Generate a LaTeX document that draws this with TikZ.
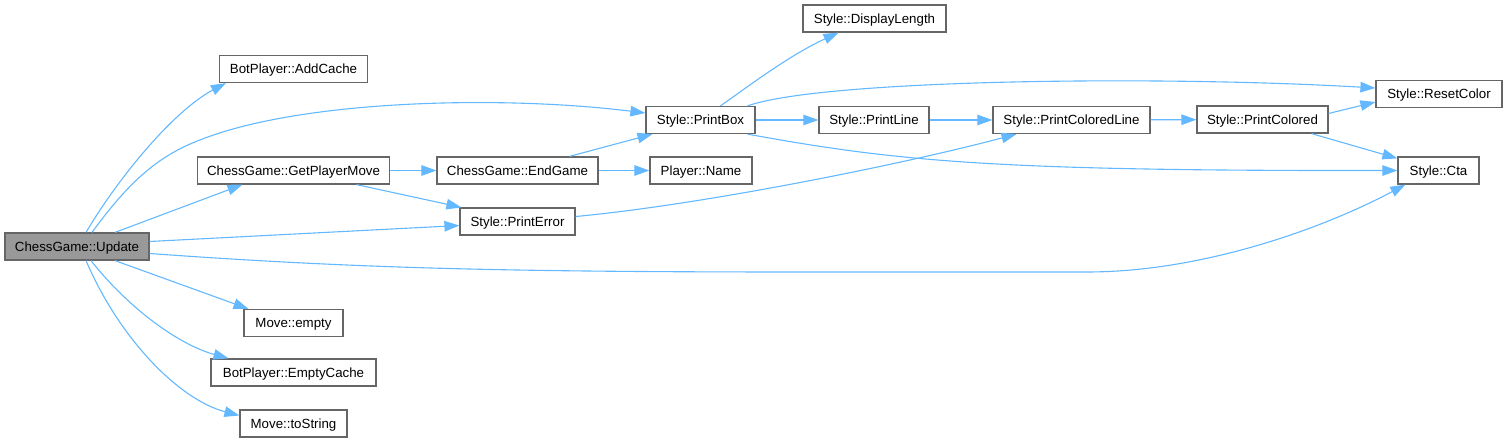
\documentclass[tikz,border=0pt]{standalone}
\usepackage{fontspec}
\setmainfont{Liberation Sans}
\usepackage{tikz}
\usetikzlibrary{arrows.meta}

\begin{document}
\begin{tikzpicture}[x=1pt,y=-1pt,
    fn/.style={draw=r102g102b102, fill=white, line width=1.2pt, inner sep=0pt,
      minimum height=27pt, text height=9.6pt, text depth=0pt,
      font=\fontsize{13.3}{16}\selectfont},
    call/.style={draw=r99g184b255, line width=1.1pt,
      -{Triangle[length=15pt,width=10.5pt,fill=r99g184b255]}}]
                        \useasboundingbox (0,0) rectangle (1507,443);

                        % Changing color 102 102 102 (box borders)
                        \definecolor{r102g102b102}{rgb}{0.400000,0.400000,0.400000}%
                        % Changing color 153 153 153 (root box)
                        \definecolor{r153g153b153}{rgb}{0.600000,0.600000,0.600000}%
                        % Changing color 99 184 255 (calls)
                        \definecolor{r99g184b255}{rgb}{0.388235,0.721569,1.000000}%

                        % Root function
                        \node [fn, fill=r153g153b153, minimum width=144pt] (upd) at (77,246.5) {ChessGame::Update};%

                        % First level callees
                        \node [fn, minimum width=148pt] (addc) at (293.5,69) {BotPlayer::AddCache};%
                        \node [fn, minimum width=192pt] (gpm) at (293.5,170.5) {ChessGame::GetPlayerMove};%
                        \node [fn, minimum width=99pt] (mempty) at (293.5,323) {Move::empty};%
                        \node [fn, minimum width=165pt] (ecache) at (293.5,372.5) {BotPlayer::EmptyCache};%
                        \node [fn, minimum width=107pt] (tostr) at (293.5,423.5) {Move::toString};%

                        % Second level callees
                        \node [fn, minimum width=161pt] (endg) at (517.5,170.5) {ChessGame::EndGame};%
                        \node [fn, minimum width=115pt] (perr) at (517.5,221.5) {Style::PrintError};%

                        % Third level callees
                        \node [fn, minimum width=109pt] (pbox) at (700.5,120) {Style::PrintBox};%
                        \node [fn, minimum width=102pt] (pname) at (701,170.5) {Player::Name};%

                        % Style helpers
                        \node [fn, minimum width=143pt] (dlen) at (874.5,18.5) {Style::DisplayLength};%
                        \node [fn, minimum width=110pt] (pline) at (874,120) {Style::PrintLine};%
                        \node [fn, minimum width=157pt] (pcline) at (1071.5,120) {Style::PrintColoredLine};%
                        \node [fn, minimum width=131pt] (pcol) at (1262.5,119.5) {Style::PrintColored};%
                        \node [fn, minimum width=126pt] (reset) at (1439,94) {Style::ResetColor};%
                        \node [fn, minimum width=81pt] (cta) at (1438.5,170.5) {Style::Cta};%

                        % Drawing calls of ChessGame::Update
                        \draw [call] ([xshift=9pt]upd.north) .. controls (120,175) and (175,110) .. ([xshift=7pt]addc.south west);%
                        \draw [call] ([xshift=15pt]upd.north) .. controls (130,180) and (160,155) .. (200,140)
                          .. controls (300,100) and (500,95) .. ([yshift=7pt]pbox.west);%
                        \draw [call] ([xshift=38pt]upd.north) -- ([xshift=-51pt]gpm.south);%
                        \draw [call] ([yshift=5pt]upd.east) -- ([yshift=-4pt]perr.west);%
                        \draw [call] ([yshift=-7pt]upd.east) .. controls (350,268) and (500,272) .. (800,272)
                          -- (1087,272) .. controls (1200,272) and (1320,230) .. ([xshift=8pt]cta.south west);%
                        \draw [call] ([xshift=38pt]upd.south) -- ([xshift=-45pt]mempty.north);%
                        \draw [call] ([xshift=14pt]upd.south) .. controls (130,310) and (180,345) .. ([xshift=-65pt]ecache.north);%
                        \draw [call] ([xshift=9pt]upd.south) .. controls (120,340) and (180,400) .. ([yshift=8pt]tostr.west);%

                        % Drawing calls of ChessGame::GetPlayerMove
                        \draw [call] (gpm) -- (endg);%
                        \draw [call] ([xshift=63pt]gpm.south) -- ([xshift=2pt]perr.north west);%

                        % Drawing calls of ChessGame::EndGame
                        \draw [call] ([xshift=52pt]endg.north) -- ([xshift=-48pt]pbox.south);%
                        \draw [call] (endg) -- (pname);%

                        % Drawing call of Style::PrintError
                        \draw [call] ([yshift=5pt]perr.east) .. controls (700,205) and (900,165) .. ([xshift=-55pt]pcline.south);%

                        % Drawing calls of Style::PrintBox
                        \draw [call] ([xshift=20pt]pbox.north) .. controls (750,85) and (790,55) .. ([xshift=-36pt]dlen.south);%
                        \draw [call] ([xshift=47pt]pbox.north) .. controls (820,80) and (1150,75) .. ([yshift=6pt]reset.west);%
                        \draw [call] (pbox) -- (pline);%
                        \draw [call] ([xshift=47pt]pbox.south) .. controls (900,162) and (1000,171) .. (cta.west);%

                        % Drawing the chain down to Style::PrintColored
                        \draw [call] (pline) -- (pcline);%
                        \draw [call] (pcline) -- (pcol);%
                        \draw [call] ([yshift=6pt]pcol.east) -- ([yshift=-8pt]reset.west);%
                        \draw [call] ([xshift=49pt]pcol.south) -- ([yshift=-2pt]cta.north west);%
\end{tikzpicture}
\end{document}
